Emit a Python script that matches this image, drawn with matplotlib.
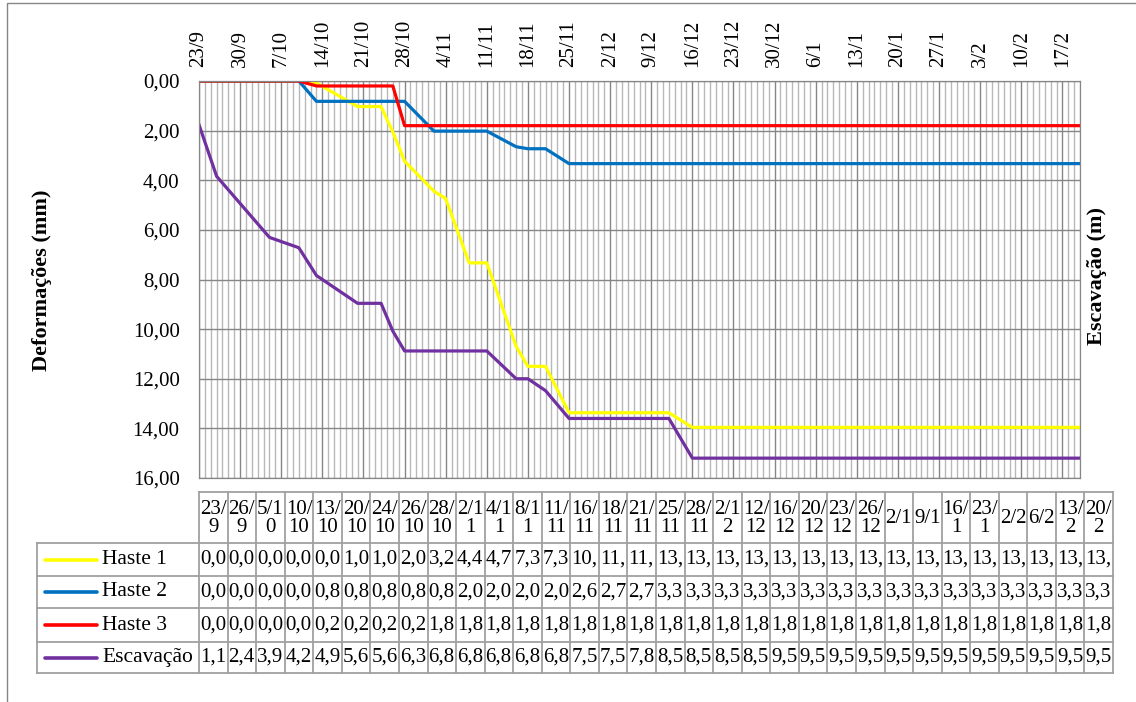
"""
deformation vs excavation chart with data table
"""

import datetime as dt
import matplotlib.pyplot as plt
import matplotlib.dates as mdates
from matplotlib.ticker import MultipleLocator, FuncFormatter
import numpy as np

plt.rcParams['font.family'] = ['Liberation Serif', 'DejaVu Serif']

# reading dates (day/month) and measurements
datas = ["23/9", "26/9", "5/10", "10/10", "13/10", "20/10", "24/10", "26/10",
         "28/10", "2/11", "4/11", "8/11", "11/11", "16/11", "18/11", "21/11",
         "25/11", "28/11", "2/12", "12/12", "16/12", "20/12", "23/12", "26/12",
         "2/1", "9/1", "16/1", "23/1", "2/2", "6/2", "13/2", "20/2"]

haste1 = [0.00, 0.00, 0.00, 0.00, 0.08, 1.03, 1.03, 2.05, 3.23, 4.44, 4.74,
          7.33, 7.33, 10.70, 11.50, 11.50, 13.37, 13.37, 13.37, 13.37] + [13.96] * 12
haste2 = [0.00, 0.00, 0.00, 0.00, 0.82, 0.82, 0.82, 0.82, 0.82, 2.02, 2.02,
          2.02, 2.02, 2.65, 2.73, 2.73, 3.33] + [3.33] * 15
haste3 = [0.00, 0.00, 0.00, 0.00, 0.20, 0.20, 0.20, 0.20] + [1.80] * 24
escavacao = [1.10, 2.40, 3.94, 4.20, 4.90, 5.60, 5.60, 6.30, 6.80, 6.80, 6.80,
             6.80, 6.80, 7.50, 7.50, 7.80, 8.50, 8.50, 8.50, 8.50] + [9.50] * 12

series = [("Haste 1", haste1, "#FFFF00"),
          ("Haste 2", haste2, "#0070C0"),
          ("Haste 3", haste3, "#FF0000"),
          ("Escavação", escavacao, "#7030A0")]


def toDate(s):
    d, m = map(int, s.split("/"))
    return dt.date(2013 if m >= 9 else 2014, m, d)


dates = [toDate(s) for s in datas]

W, H = 1136, 702
FS = 15
TABLE_FS = 15.5
GRID_DARK = "#868686"
GRID_LIGHT = "#b8b8b8"
TABLE_LINE = "#a0a0a0"

fig = plt.figure(figsize=(W / 100, H / 100), dpi=100)


def box(x0, y0, x1, y1):
    return [x0 / W, 1 - y1 / H, (x1 - x0) / W, (y1 - y0) / H]


# overlay in pixel coordinates for the frame and the data table
bg = fig.add_axes([0, 0, 1, 1])
bg.set_xlim(0, W)
bg.set_ylim(H, 0)
bg.axis("off")
bg.add_patch(plt.Rectangle((7, 3), W, H, fill=False, ec=GRID_DARK, lw=1))

# main plot
ax = fig.add_axes(box(199, 81, 1080, 478))
for name, vals, color in series[:3]:
    ax.plot(dates, vals, color=color, lw=2.3, solid_joinstyle="round")

ax.set_xlim(dates[0], dates[-1])
ax.set_ylim(16, 0)
ax.yaxis.set_major_locator(MultipleLocator(2))
ax.yaxis.set_major_formatter(FuncFormatter(lambda v, p: f"{v:.2f}".replace(".", ",")))

weekly = [dates[0] + dt.timedelta(days=7 * k) for k in range(22)]
daily = [dates[0] + dt.timedelta(days=k) for k in range((dates[-1] - dates[0]).days + 1)]
ax.xaxis.tick_top()
ax.set_xticks(mdates.date2num(weekly))
ax.set_xticklabels([f"{d.day}/{d.month}" for d in weekly], rotation=90)
ax.set_xticks(mdates.date2num(daily), minor=True)

ax.grid(which="minor", axis="x", color=GRID_LIGHT, lw=1)
ax.grid(which="major", color=GRID_DARK, lw=1)
ax.set_axisbelow(True)
ax.tick_params(which="both", length=0, labelsize=FS)
ax.tick_params(axis="y", pad=14)
ax.tick_params(axis="x", pad=10)
for s in ax.spines.values():
    s.set_color(GRID_DARK)

# excavation on its own (hidden) scale
ax2 = ax.twinx()
name, vals, color = series[3]
ax2.plot(dates, vals, color=color, lw=2.3, solid_joinstyle="round")
ax2.set_ylim(10, 0)
ax2.set_yticks([])
for s in ax2.spines.values():
    s.set_color(GRID_DARK)

fig.text(42 / W, 1 - 280 / H, "Deformações (mm)", rotation=90, ha="center",
         va="center", fontsize=16, fontweight="bold")
fig.text(1097 / W, 1 - 276 / H, "Escavação (m)", rotation=90, ha="center",
         va="center", fontsize=16, fontweight="bold")

# data table
cols = np.linspace(199, 1113, len(datas) + 1)
rows = [543, 576, 608, 642, 673]
bg.plot([199, 1113], [492, 492], color=TABLE_LINE, lw=1.3)
for y in rows:
    bg.plot([37, 1113], [y, y], color=TABLE_LINE, lw=1.3)
bg.plot([37, 37], [rows[0], rows[-1]], color=TABLE_LINE, lw=1.3)
for x in cols:
    bg.plot([x, x], [492, rows[-1]], color=TABLE_LINE, lw=1.3)

for i, s in enumerate(datas):
    label = "\n".join(s[k:k + 3] for k in range(0, len(s), 3))
    bg.text((cols[i] + cols[i + 1]) / 2, (492 + rows[0]) / 2 + 1, label,
            ha="center", va="center", fontsize=FS, linespacing=0.95)

for r, (name, vals, color) in enumerate(series):
    yc = (rows[r] + rows[r + 1]) / 2
    bg.plot([45, 97], [yc, yc], color=color, lw=2.6, solid_capstyle="round")
    bg.text(102, yc, name, ha="left", va="center", fontsize=TABLE_FS)
    for i, v in enumerate(vals):
        txt = f"{v:.2f}".replace(".", ",")[:3]
        bg.text(cols[i] + 1, yc, txt, ha="left", va="center", fontsize=FS)

plt.savefig("out.png", dpi=100)
